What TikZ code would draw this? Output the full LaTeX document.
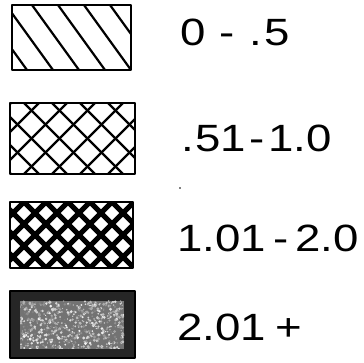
\documentclass[tikz,border=0pt]{standalone}
\usepackage{fontspec}
\setmainfont{Liberation Sans}
\begin{document}
\begin{tikzpicture}[x=1pt,y=1pt,
  frame/.style={line width=2.4pt, line join=round, line cap=round},
  hatchline/.style={line width=2.2pt, line cap=round},
  label/.style={anchor=base west, inner sep=0pt, xscale=1.2, font=\fontsize{38}{42}\selectfont}]
\useasboundingbox (0,0) rectangle (364,363);

% Box 1: single diagonal hatch
\begin{scope}
  \clip (12,358) rectangle (131,293);
  \foreach \x in {-20,6,32,58,84,110}
    \draw[hatchline] (\x,358) -- ++(47,-65);
\end{scope}
\draw[frame] (12,358) rectangle (131,293);

% Box 2: crosshatch
\begin{scope}
  \clip (10,260) rectangle (135,189);
  \foreach \x in {-60,-32,...,140}
    {\draw[hatchline] (\x,260) -- ++(71,-71);
     \draw[hatchline] (\x+71,260) -- ++(-71,-71);}
\end{scope}
\draw[frame] (10,260) rectangle (135,189);

% Box 3: dense heavy crosshatch
\begin{scope}
  \clip (10,161) rectangle (133,95);
  \foreach \x in {-64,-42,...,140}
    {\draw[line width=5pt] (\x,161) -- ++(66,-66);
     \draw[line width=5pt] (\x+66,161) -- ++(-66,-66);}
\end{scope}
\draw[frame, line width=2.8pt] (10,161) rectangle (133,95);

% Box 4: dark fill with mottled light centre
\fill[black!85] (10,72) rectangle (135,5);
\begin{scope}
  \clip (20,62) rectangle (124,14);
  \fill[black!55] (20,62) rectangle (124,14);
  \pgfmathsetseed{11}
  \foreach \i in {1,...,700}{
    \pgfmathsetmacro{\px}{20+104*rnd}
    \pgfmathsetmacro{\py}{14+48*rnd}
    \pgfmathsetmacro{\g}{5+50*rnd}
    \fill[black!\g] (\px,\py) circle (0.6+1.1*rnd);
  }
\end{scope}
\draw[frame, black] (10,72) rectangle (135,5);

% stray dot
\fill (180,175) circle (0.8);

% Labels
\node[label] (l1) at (180,317) {0\hspace{12pt}-\hspace{12pt}.\hspace{2pt}5};
\node[label] (l2) at (181,211) {.\hspace{1pt}51\hspace{3pt}-\hspace{3pt}1.0};
\node[label] (l3) at (177,111) {1.01\hspace{6pt}-\hspace{6pt}2.0};
\node[label] (l4) at (177,22) {2.01\hspace{8pt}+};
\end{tikzpicture}
\end{document}
